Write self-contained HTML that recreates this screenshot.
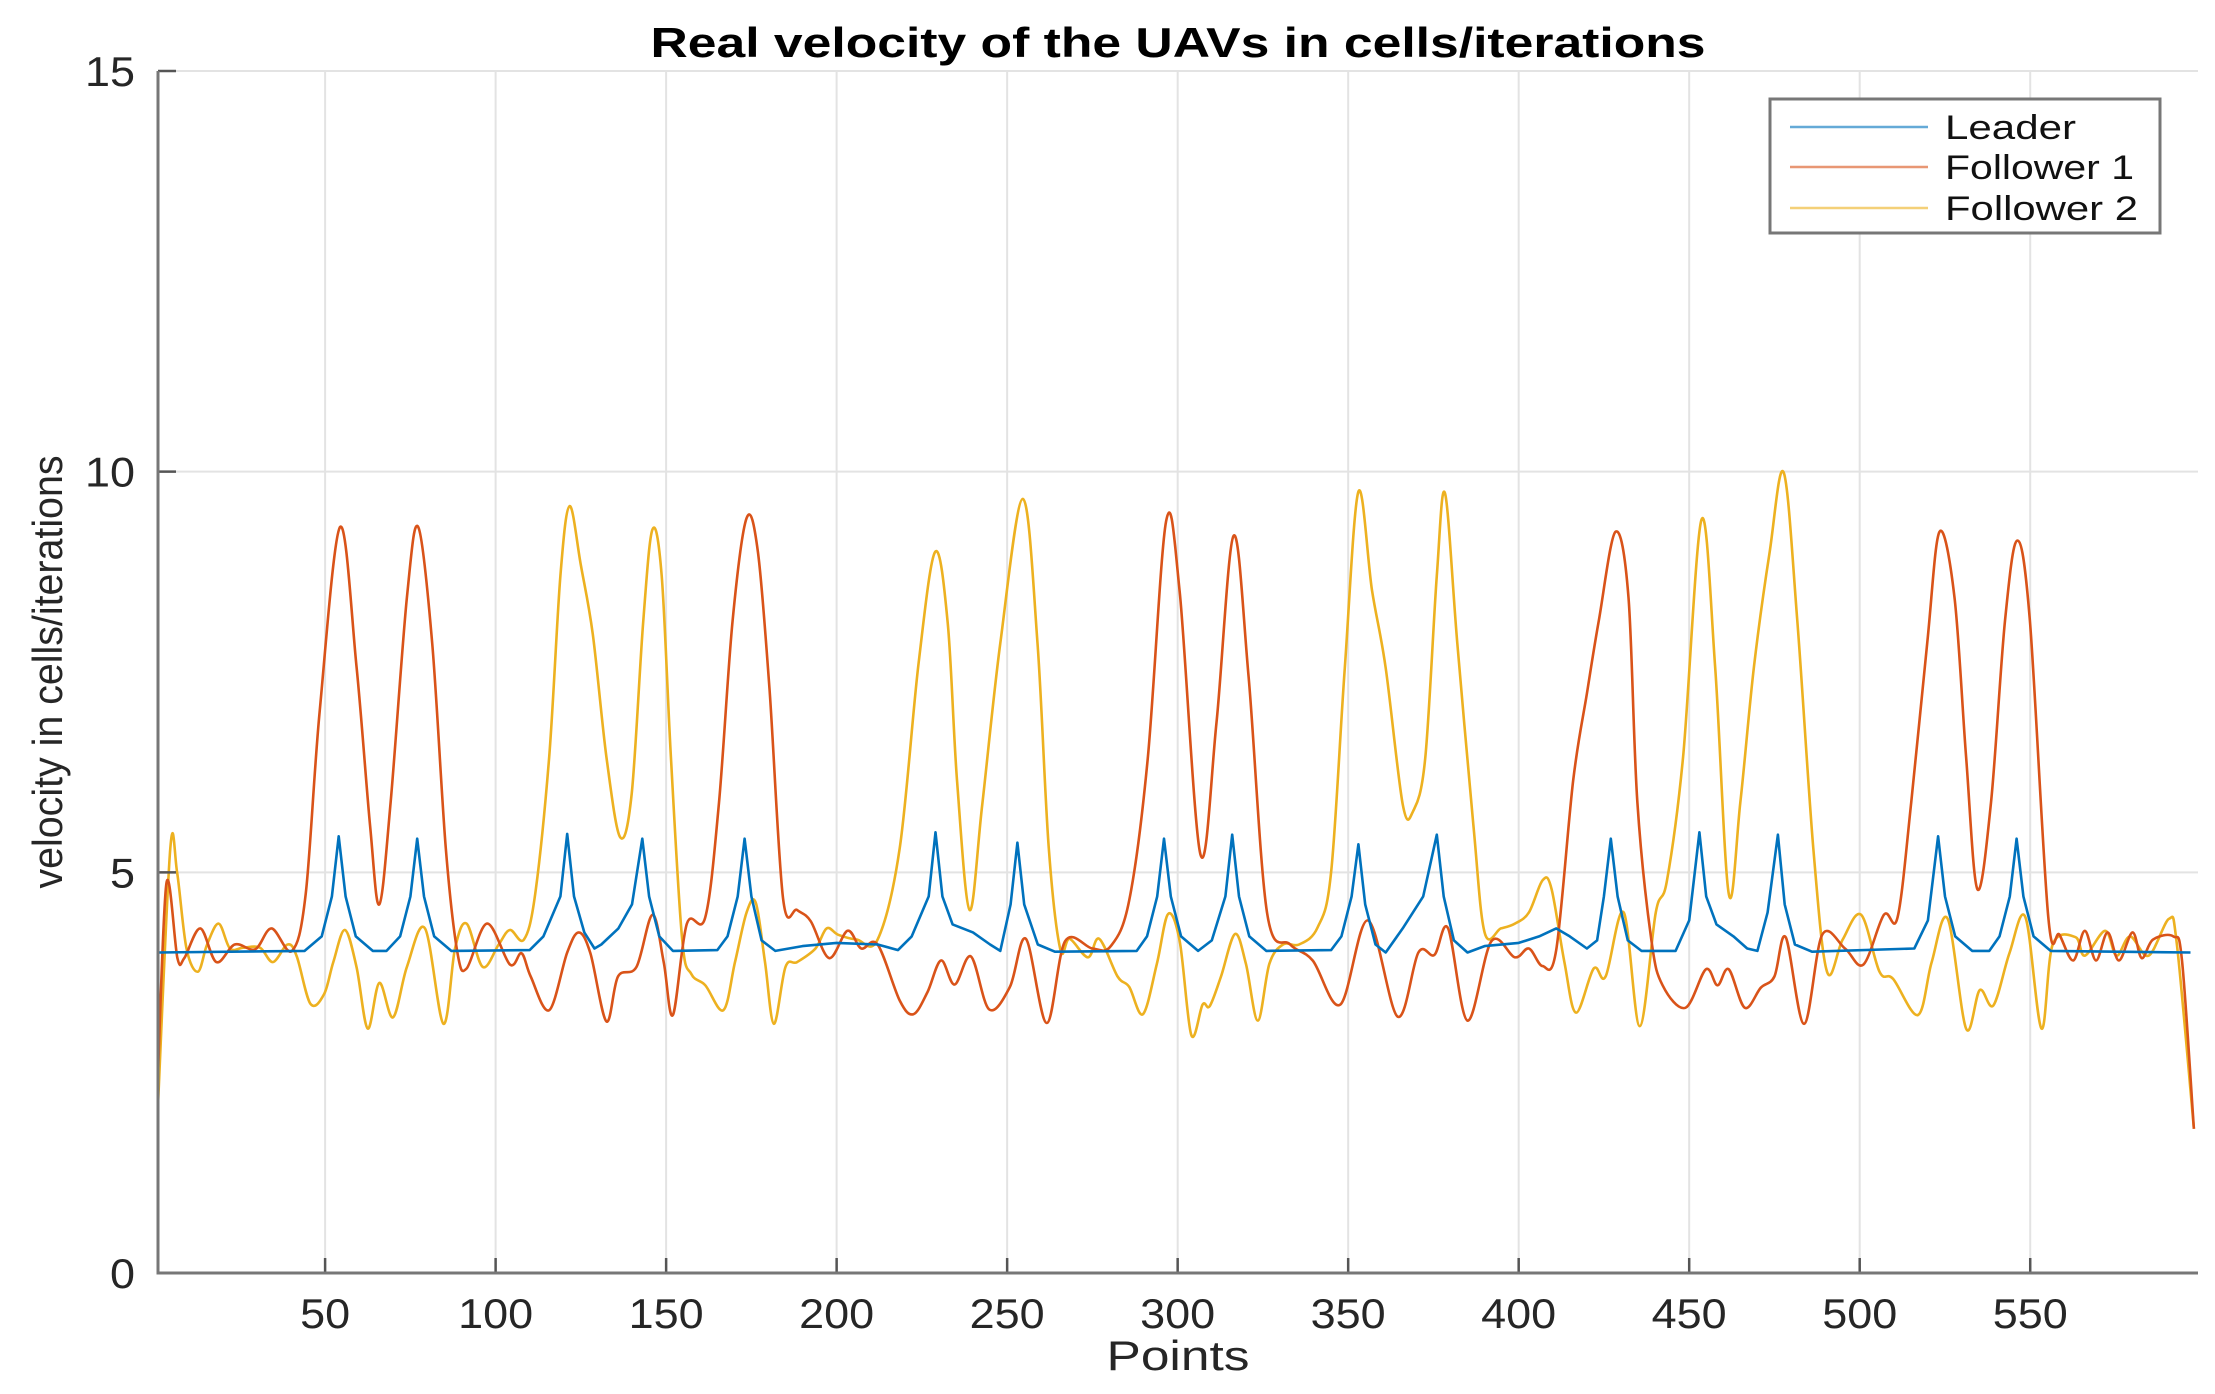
<!DOCTYPE html>
<html><head><meta charset="utf-8"><style>
html,body{margin:0;padding:0;background:#fff;}
svg{display:block;font-family:"Liberation Sans",Arial,sans-serif;}
</style></head><body>
<svg id="chart" width="2215" height="1394" viewBox="0 0 2215 1394">
<g id="grid"></g>
<g id="series"></g>
<g id="axes"></g>
<text id="title" x="1178" y="57" text-anchor="middle" font-weight="bold" font-size="42" fill="#000">Real velocity of the UAVs in cells/iterations</text>
<text id="xlabel" x="1178" y="1370" text-anchor="middle" font-size="42" fill="#262626">Points</text>
<text id="ylabel" transform="translate(62,672) rotate(-90)" text-anchor="middle" font-size="42" fill="#262626">velocity in cells/iterations</text>
<g>
<rect x="1770" y="99" width="390" height="134" fill="#fff" stroke="#777" stroke-width="3"/>
<g><line x1="1790" y1="127" x2="1928" y2="127" stroke="#0072BD" stroke-width="2.5" opacity="0.6"/><text x="1945" y="139" font-size="34" fill="#111" textLength="131" lengthAdjust="spacingAndGlyphs">Leader</text></g>
<g><line x1="1790" y1="167" x2="1928" y2="167" stroke="#D95319" stroke-width="2.5" opacity="0.6"/><text x="1945" y="179" font-size="34" fill="#111" textLength="189" lengthAdjust="spacingAndGlyphs">Follower 1</text></g>
<g><line x1="1790" y1="208" x2="1928" y2="208" stroke="#EDB120" stroke-width="2.5" opacity="0.6"/><text x="1945" y="220" font-size="34" fill="#111" textLength="193" lengthAdjust="spacingAndGlyphs">Follower 2</text></g>
</g>
</svg>
<script>
const xTicks = [50,100,150,200,250,300,350,400,450,500,550];
const yTicks = [0,5,10,15];
const seriesNames = ["Leader","Follower 1","Follower 2"];
const leaderPts = [[1,4.0],[44,4.02],[49,4.2],[52,4.7],[54,5.45],[56,4.7],[59,4.2],[64,4.02],[68,4.02],[72,4.2],[75,4.7],[77,5.42],[79,4.7],[82,4.2],[87,4.02],[110,4.03],[114,4.2],[119,4.7],[121,5.48],[123,4.7],[126,4.25],[129,4.05],[131,4.1],[136,4.3],[140,4.6],[143,5.42],[145,4.7],[148,4.2],[152,4.02],[165,4.03],[168,4.2],[171,4.7],[173,5.42],[175,4.7],[178,4.15],[182,4.02],[190,4.08],[200,4.12],[212,4.1],[218,4.03],[222,4.2],[227,4.7],[229,5.5],[231,4.7],[234,4.35],[240,4.25],[245,4.1],[248,4.02],[251,4.6],[253,5.37],[255,4.6],[259,4.1],[264,4.01],[288,4.02],[291,4.2],[294,4.7],[296,5.42],[298,4.7],[301,4.2],[306,4.02],[310,4.15],[314,4.7],[316,5.47],[318,4.7],[321,4.2],[326,4.02],[345,4.03],[348,4.2],[351,4.7],[353,5.35],[355,4.6],[358,4.1],[361,4.0],[366,4.3],[372,4.7],[376,5.47],[378,4.7],[381,4.15],[385,4.0],[390,4.08],[400,4.12],[406,4.2],[411,4.3],[415,4.2],[420,4.05],[423,4.15],[425,4.7],[427,5.42],[429,4.7],[432,4.15],[436,4.02],[446,4.02],[450,4.4],[453,5.5],[455,4.7],[458,4.35],[463,4.2],[467,4.05],[470,4.02],[473,4.5],[476,5.47],[478,4.6],[481,4.1],[486,4.01],[516,4.05],[520,4.4],[523,5.45],[525,4.7],[528,4.2],[533,4.02],[538,4.02],[541,4.2],[544,4.7],[546,5.42],[548,4.7],[551,4.2],[556,4.02],[597,4.0]];
const follower1Pts = [[1,2.5],[3.5,4.87],[6.7,3.93],[8.7,3.93],[13.4,4.3],[18.1,3.88],[23.5,4.1],[29.5,4.04],[34.3,4.3],[40.3,4.02],[44.3,4.73],[48.4,7.0],[54.4,9.31],[59.2,7.57],[63.2,5.58],[65.9,4.6],[69.2,5.87],[74,8.43],[77.3,9.31],[81.4,7.86],[85.4,5.3],[88.8,4.0],[91.5,3.8],[97.5,4.36],[104.2,3.85],[107.6,3.99],[110.3,3.7],[115.7,3.28],[121,4.0],[124.4,4.25],[127.8,3.99],[132.5,3.14],[135.9,3.7],[141.3,3.82],[146,4.47],[149.3,3.88],[152,3.22],[156.1,4.36],[161.5,4.44],[165.5,5.87],[169.5,8.14],[173.6,9.42],[176.9,9.0],[180.3,7.29],[184.3,4.67],[188.4,4.53],[192.4,4.39],[197.8,3.93],[203.2,4.27],[207.2,4.05],[212,4.1],[218.5,3.4],[222.5,3.23],[226.6,3.5],[230.6,3.9],[234.6,3.6],[239.4,3.95],[244.7,3.29],[250.8,3.57],[255.5,4.17],[261.6,3.12],[267,4.14],[275,4.05],[280.4,4.08],[285.8,4.65],[291.2,6.4],[296.6,9.38],[300.6,8.5],[306.7,5.22],[311.4,6.87],[316.4,9.2],[320.8,7.44],[326.2,4.5],[333,4.1],[339.6,3.9],[347.7,3.35],[355.8,4.4],[364.5,3.2],[370.6,4.0],[375.3,3.97],[379.3,4.3],[385,3.15],[392,4.14],[398.9,3.94],[403,4.05],[407,3.83],[411,4.03],[416,6.15],[420,7.23],[423.5,8.14],[428.4,9.25],[432.2,8.43],[434.8,5.87],[438.9,4.16],[442.2,3.59],[448.9,3.31],[454.9,3.79],[458.3,3.59],[461.6,3.79],[466.3,3.31],[471,3.56],[475,3.7],[478.3,4.19],[483.7,3.11],[489,4.22],[495.7,4.05],[501.1,3.85],[507.1,4.47],[511.1,4.44],[515.1,5.87],[519.8,7.86],[523.4,9.25],[527.8,8.43],[531.2,6.44],[534.5,4.79],[538.5,5.87],[542.6,8.14],[546.2,9.14],[549.9,8.14],[555.3,4.44],[558.6,4.22],[562.6,3.9],[566,4.27],[569.3,3.9],[572.7,4.25],[576,3.9],[580,4.25],[582.7,3.93],[586,4.16],[592,4.2],[594.5,3.9],[598,1.8]];
const follower2Pts = [[1,2.1],[4.6,5.3],[6.6,5.0],[9.35,4.05],[12.7,3.76],[15.4,4.1],[18.8,4.36],[22.1,4.05],[26,4.06],[30.9,4.06],[34.7,3.88],[39,4.1],[41.7,3.95],[45.7,3.36],[49.7,3.48],[52.4,3.88],[55.8,4.28],[59.2,3.82],[62.5,3.05],[65.9,3.62],[69.9,3.19],[74,3.82],[79.3,4.3],[84.7,3.11],[88.1,4.05],[91.5,4.36],[96.2,3.82],[100.9,4.1],[104.2,4.28],[108.3,4.16],[111.6,4.73],[115.7,6.44],[119,8.7],[121.7,9.57],[125,8.83],[128.5,7.97],[132.5,6.44],[136.5,5.44],[139.9,5.98],[143.3,8.14],[146,9.28],[148.7,8.7],[151.4,6.44],[154.7,4.16],[157.4,3.73],[161.5,3.59],[166.8,3.28],[170.2,3.88],[173.6,4.5],[176.3,4.62],[179,3.88],[181.6,3.11],[185,3.82],[188.4,3.88],[193.8,4.05],[197.1,4.3],[200.5,4.22],[205.9,4.16],[212,4.16],[218.5,5.3],[224,7.6],[228.9,9.0],[232.6,8.1],[235.3,6.15],[239,4.53],[242.7,5.85],[248,7.86],[254.6,9.66],[258.9,7.86],[262.2,5.3],[265.6,4.04],[268.3,4.17],[273.7,3.94],[277,4.17],[282.4,3.7],[285.8,3.57],[289.8,3.23],[293.9,3.86],[297.2,4.48],[300.6,4.14],[304,2.97],[307.3,3.35],[309.4,3.33],[312.7,3.7],[316.8,4.23],[320,3.86],[323.5,3.15],[326.9,3.86],[330.9,4.1],[335.6,4.1],[341,4.31],[345,5.0],[349,7.55],[353,9.75],[357,8.52],[361,7.55],[366,5.85],[369,5.76],[372.6,6.42],[376,8.7],[378.4,9.73],[382,7.86],[386.7,5.6],[390,4.25],[394.8,4.3],[398.9,4.36],[403,4.5],[407,4.9],[409.6,4.8],[413.4,3.88],[416.8,3.25],[422,3.8],[425.5,3.7],[430.8,4.5],[435.5,3.08],[440.2,4.5],[443.5,4.9],[448.2,6.44],[453.6,9.4],[457.6,7.57],[461.6,4.73],[465,5.87],[469,7.57],[473.6,9.0],[477.7,9.99],[481.7,8.14],[486.4,5.3],[490.4,3.76],[495,4.16],[500.4,4.47],[505.8,3.76],[509.8,3.67],[517.1,3.22],[521.1,3.88],[525.8,4.42],[531.2,3.05],[535.2,3.53],[539.2,3.34],[543.9,3.99],[548.6,4.44],[553.3,3.05],[556.6,4.1],[563.3,4.19],[566,3.96],[572,4.27],[575.3,3.96],[579.3,4.2],[584.7,3.96],[590.7,4.42],[593,4.1],[598,1.8]];

const NS="http://www.w3.org/2000/svg";
const L=158,R=2198,T=71,B=1273,XMIN=1,XMAX=599.2,YMIN=0,YMAX=15;
function xs(v){return L+(v-XMIN)/(XMAX-XMIN)*(R-L);}
function ys(v){return B-(v-YMIN)/(YMAX-YMIN)*(B-T);}
function mk(tag,attrs,parent){const e=document.createElementNS(NS,tag);for(const k in attrs)e.setAttribute(k,attrs[k]);parent.appendChild(e);return e;}
const grid=document.getElementById('grid'),axes=document.getElementById('axes'),ser=document.getElementById('series');
xTicks.forEach(t=>{
  const g=mk('line',{x1:xs(t),x2:xs(t),y1:T,y2:B,stroke:'#e3e3e3','stroke-width':2},grid);
  
  
  const tk=mk('line',{x1:xs(t),x2:xs(t),y1:B,y2:B-15,stroke:'#555','stroke-width':2.5},axes);
  
  
  const tx=mk('text',{x:xs(t),y:1328,'text-anchor':'middle','font-size':42,fill:'#262626'},axes);
  tx.textContent=String(t);
  tx.setAttribute('textLength',25*String(t).length);
  tx.setAttribute('lengthAdjust','spacingAndGlyphs');
  
  
});
yTicks.forEach(t=>{
  if(t>0){const g=mk('line',{x1:L,x2:R,y1:ys(t),y2:ys(t),stroke:'#e3e3e3','stroke-width':2},grid);
  
  }
  const tk=mk('line',{x1:L,x2:L+18,y1:ys(t),y2:ys(t),stroke:'#555','stroke-width':2.5},axes);
  
  
  const tx=mk('text',{x:135,y:ys(t)+15,'text-anchor':'end','font-size':42,fill:'#262626'},axes);
  tx.textContent=String(t);
  tx.setAttribute('textLength',25*String(t).length);
  tx.setAttribute('lengthAdjust','spacingAndGlyphs');
  
  
});
const ax=mk('path',{d:`M${L},${T} L${L},${B} L${R},${B}`,fill:'none',stroke:'#777','stroke-width':3},axes);


function splinePath(pts){
  const p=pts.map(d=>[xs(d[0]),ys(d[1])]);
  let d=`M${p[0][0].toFixed(1)},${p[0][1].toFixed(1)}`;
  for(let i=0;i<p.length-1;i++){
    const p0=p[Math.max(0,i-1)],p1=p[i],p2=p[i+1],p3=p[Math.min(p.length-1,i+2)];
    const c1=[p1[0]+(p2[0]-p0[0])/6,p1[1]+(p2[1]-p0[1])/6];
    const c2=[p2[0]-(p3[0]-p1[0])/6,p2[1]-(p3[1]-p1[1])/6];
    d+=` C${c1[0].toFixed(1)},${c1[1].toFixed(1)} ${c2[0].toFixed(1)},${c2[1].toFixed(1)} ${p2[0].toFixed(1)},${p2[1].toFixed(1)}`;
  }
  return d;
}
function linePath(pts){
  return pts.map((d,i)=>(i?'L':'M')+xs(d[0]).toFixed(1)+','+ys(d[1]).toFixed(1)).join(' ');
}
const s3=mk('path',{d:splinePath(follower2Pts),fill:'none',stroke:'#EDB120','stroke-width':2.6,'stroke-linejoin':'round'},ser);


const s2=mk('path',{d:splinePath(follower1Pts),fill:'none',stroke:'#D95319','stroke-width':2.6,'stroke-linejoin':'round'},ser);


const s1=mk('path',{d:linePath(leaderPts),fill:'none',stroke:'#0072BD','stroke-width':2.6,'stroke-linejoin':'round'},ser);


const title=document.getElementById('title');title.setAttribute('textLength',1055);title.setAttribute('lengthAdjust','spacingAndGlyphs');
const xl=document.getElementById('xlabel');xl.setAttribute('textLength',143);xl.setAttribute('lengthAdjust','spacingAndGlyphs');
const yl=document.getElementById('ylabel');yl.setAttribute('textLength',433);yl.setAttribute('lengthAdjust','spacingAndGlyphs');
</script>
</body></html>
